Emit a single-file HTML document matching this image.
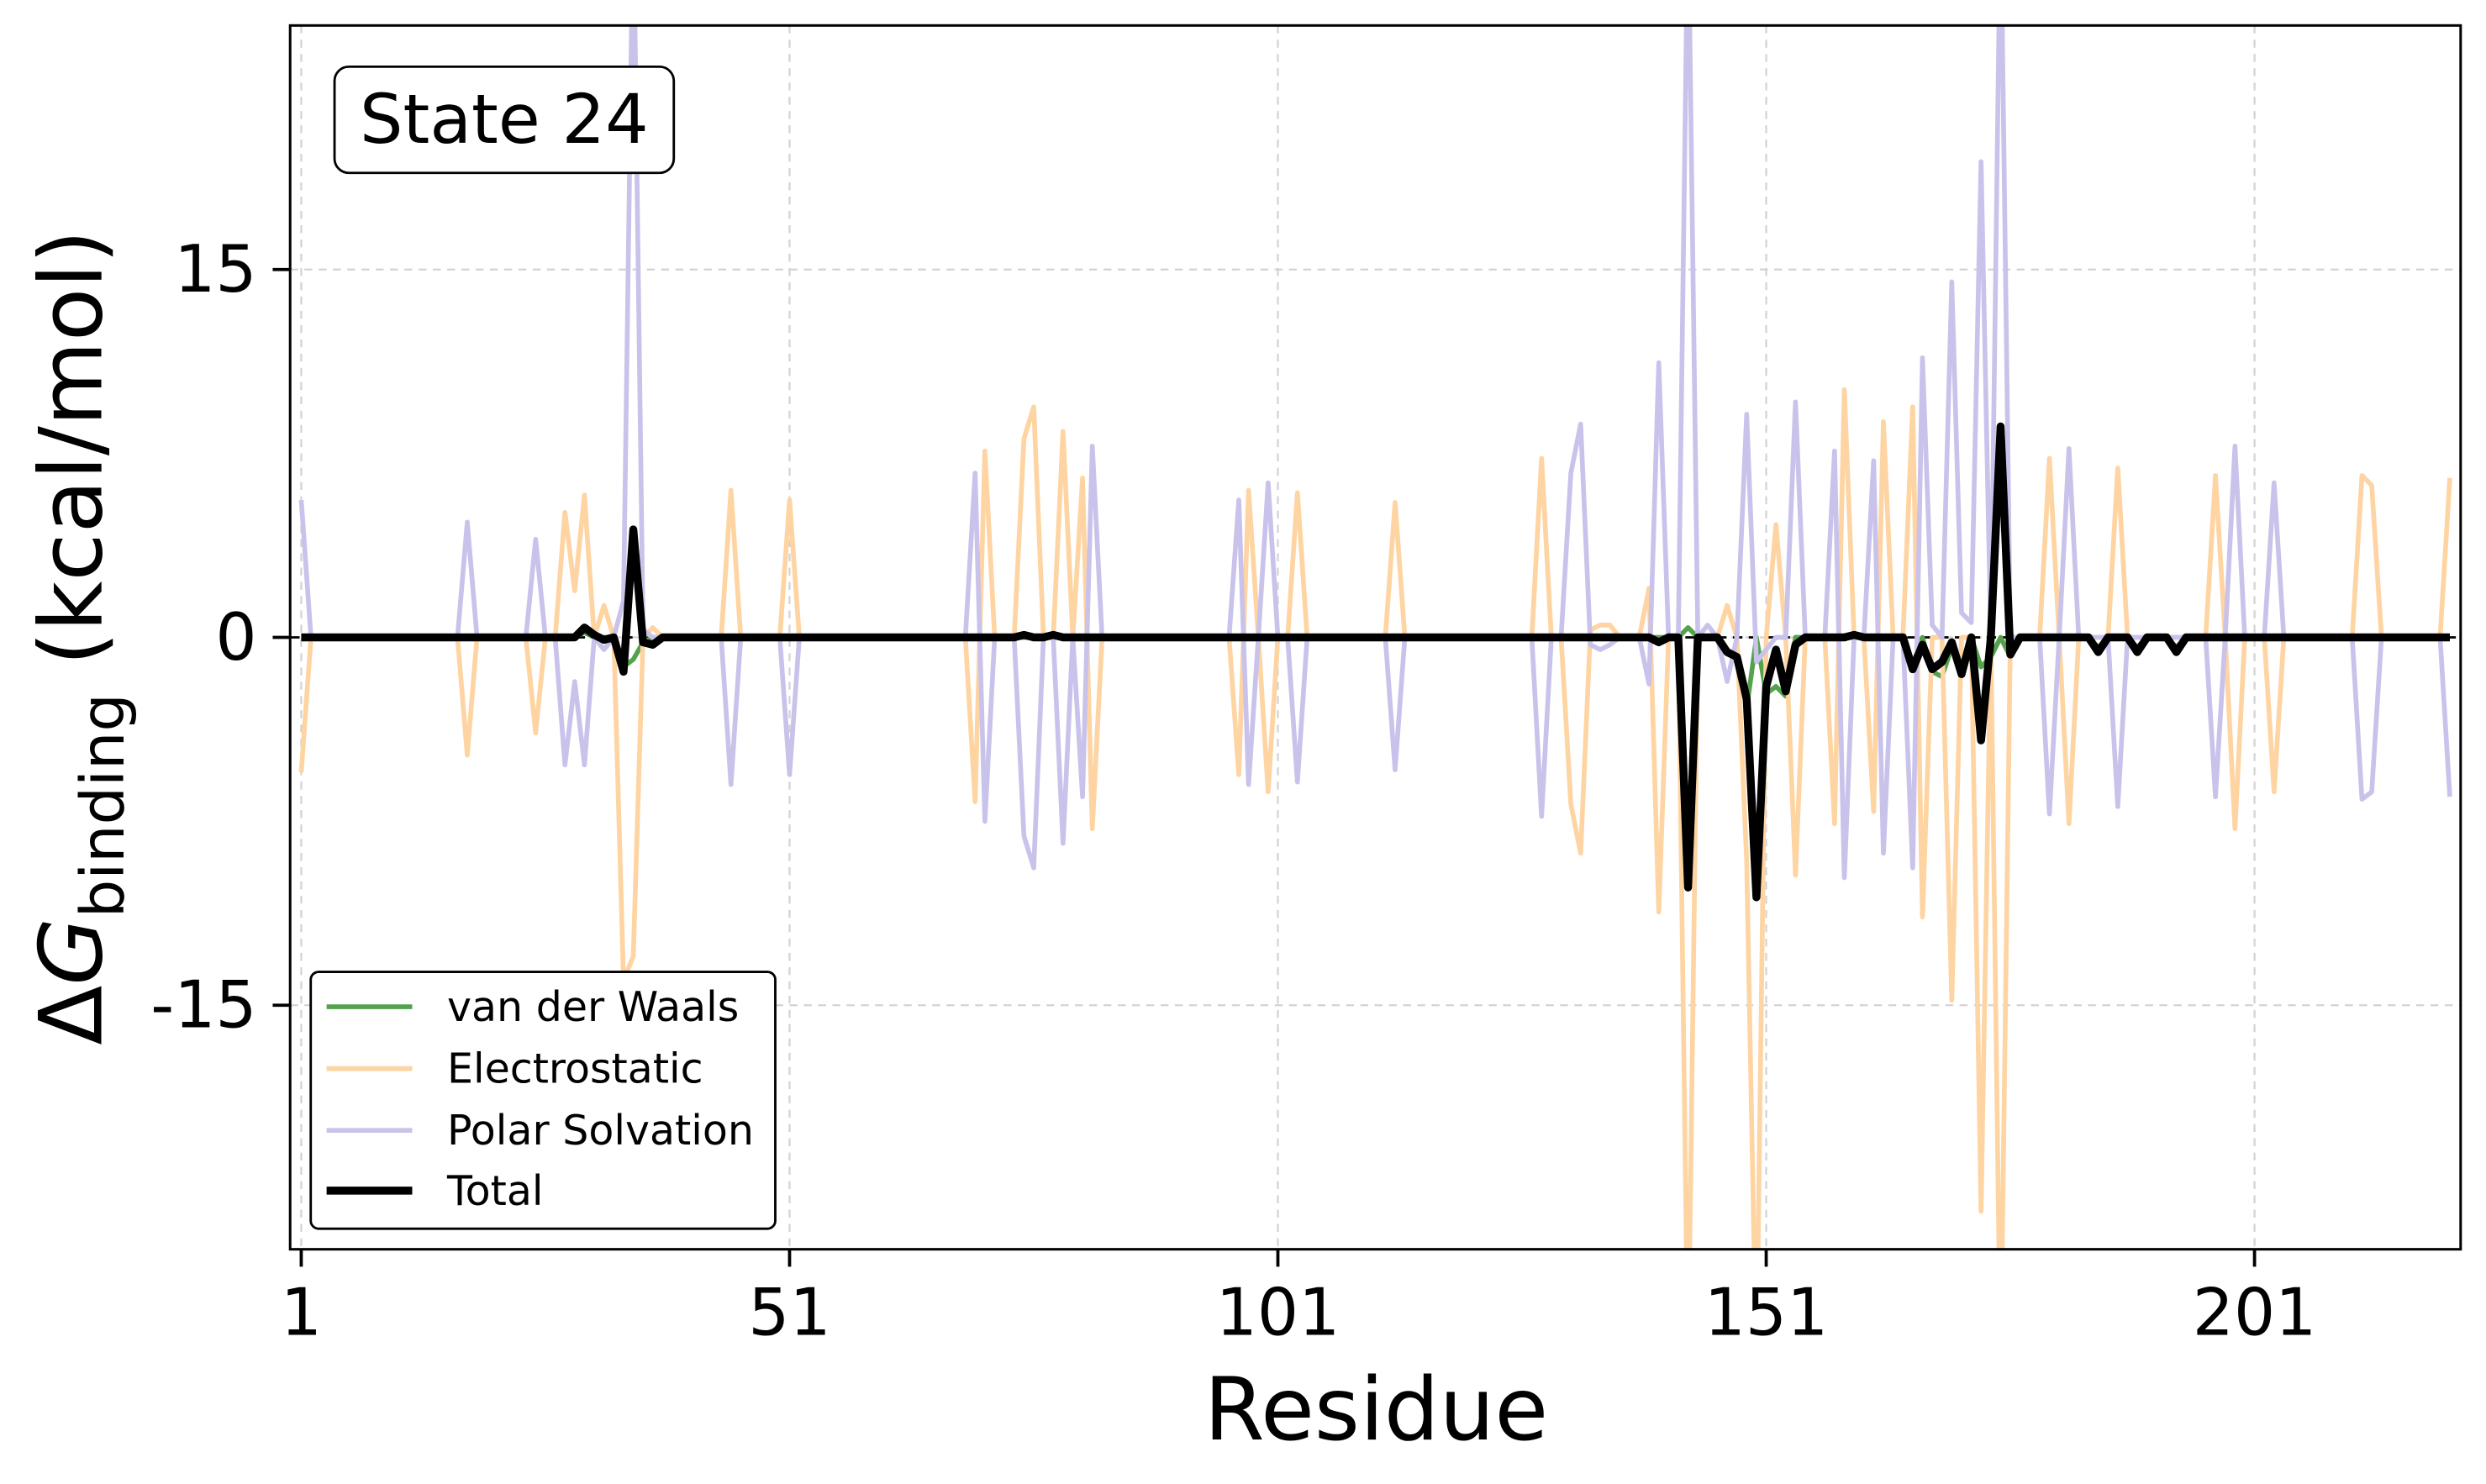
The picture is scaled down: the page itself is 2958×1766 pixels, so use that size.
<!DOCTYPE html>
<html><head><meta charset="utf-8"><style>html,body{margin:0;padding:0;background:#fff}svg{display:block}</style></head>
<body>
<svg id="chart" width="2958" height="1766" viewBox="0 0 1568 936" xmlns="http://www.w3.org/2000/svg" font-family="'DejaVu Sans','Liberation Sans',sans-serif">
<defs><clipPath id="pc"><rect x="183" y="16" width="1369" height="772"/></clipPath></defs>
<rect width="1568" height="936" fill="#fff"/>
<g id="grid"></g>
<g id="series" clip-path="url(#pc)"></g>
<rect x="183" y="16" width="1369" height="772" fill="none" stroke="#000" stroke-width="1.6"/>
<g id="axes"></g>
<text x="868" y="908" font-size="55" text-anchor="middle">Residue</text>
<text transform="translate(64,402) rotate(-90)" font-size="55" text-anchor="middle">Δ<tspan font-style="italic">G</tspan><tspan font-size="38" dy="14">binding</tspan><tspan dy="-14"> (kcal/mol)</tspan></text>
<g>
<rect x="211" y="42" width="214" height="67" rx="9" fill="#fff" stroke="#000" stroke-width="1.5"/>
<text x="318" y="90" font-size="43" text-anchor="middle">State 24</text></g>
<g>
<rect x="196" y="613" width="293" height="162" rx="5" fill="#fff" stroke="#000" stroke-width="1.5"/>
<line x1="206" y1="635" x2="260" y2="635" stroke="#55a24d" stroke-width="3"/><text x="282" y="644" font-size="26">van der Waals</text>
<line x1="206" y1="674" x2="260" y2="674" stroke="#fed4a2" stroke-width="3"/><text x="282" y="683" font-size="26">Electrostatic</text>
<line x1="206" y1="713" x2="260" y2="713" stroke="#c9c2ea" stroke-width="3"/><text x="282" y="722" font-size="26">Polar Solvation</text>
<line x1="206" y1="751" x2="260" y2="751" stroke="#000" stroke-width="5"/><text x="282" y="760" font-size="26">Total</text>
</g>
</svg>
<script>
const nRes = 221;
const xTicks = [1, 51, 101, 151, 201];
const yTicks = [-15, 0, 15];
const yTickLabels = ["-15", "0", "15"];
// sparse [residue, value]; unlisted residues are 0
const vdwPts = [[30,0.2],[34,-1.2],[35,-0.9],[36,-0.2],[143,0.4],[147,-0.5],[148,-0.8],[149,-2.9],[151,-2.3],[152,-2.0],[153,-2.4],[166,-1.1],[168,-1.4],[169,-1.6],[170,-0.4],[171,-1.5],[173,-1.2],[174,-0.8],[176,-0.8],[185,-0.4],[189,-0.4],[193,-0.4]];
const elecPts = [[1,-5.5],[18,-4.8],[25,-3.9],[28,5.1],[29,1.9],[30,5.8],[32,1.3],[34,-14],[35,-13],[37,0.4],[45,6.0],[51,5.6],[70,-6.7],[71,7.6],[75,8.1],[76,9.4],[79,8.4],[81,6.5],[82,-7.8],[97,-5.6],[98,6.0],[100,-6.3],[103,5.9],[113,5.5],[128,7.3],[131,-6.8],[132,-8.8],[133,0.3],[134,0.5],[135,0.5],[139,2.0],[140,-11.2],[143,-30],[147,1.3],[149,-9.1],[150,-30],[152,4.6],[154,-9.7],[158,-7.6],[159,10.1],[162,-7.1],[163,8.8],[166,9.4],[167,-11.4],[170,-14.8],[173,-23.4],[175,-30],[180,7.3],[182,-7.6],[187,6.9],[197,6.6],[199,-7.8],[203,-6.3],[212,6.6],[213,6.2],[221,6.5]];
const polarPts = [[1,5.6],[18,4.7],[25,4.0],[28,-5.2],[29,-1.8],[30,-5.2],[32,-0.5],[34,1.5],[35,30],[36,0.3],[45,-6.0],[51,-5.6],[70,6.7],[71,-7.5],[75,-8.1],[76,-9.4],[79,-8.4],[81,-6.5],[82,7.8],[97,5.6],[98,-6.0],[100,6.3],[103,-5.9],[113,-5.4],[128,-7.3],[131,6.7],[132,8.7],[133,-0.3],[134,-0.5],[135,-0.3],[139,-1.9],[140,11.2],[143,30],[145,0.5],[147,-1.8],[149,9.1],[150,-1.0],[151,-0.5],[154,9.6],[158,7.6],[159,-9.8],[162,7.2],[163,-8.8],[166,-9.4],[167,11.4],[168,0.5],[170,14.5],[171,1.0],[172,0.6],[173,19.4],[175,30],[180,-7.2],[182,7.7],[187,-6.9],[197,-6.5],[199,7.8],[203,6.3],[212,-6.6],[213,-6.3],[221,-6.5]];
const totalPts = [[30,0.4],[31,0.1],[32,-0.1],[34,-1.4],[35,4.4],[36,-0.2],[37,-0.3],[75,0.1],[78,0.1],[140,-0.2],[143,-10.2],[147,-0.6],[148,-0.8],[149,-2.5],[150,-10.6],[151,-2.0],[152,-0.5],[153,-2.2],[154,-0.3],[160,0.1],[166,-1.3],[167,-0.3],[168,-1.3],[169,-1.0],[170,-0.2],[171,-1.5],[173,-4.2],[175,8.6],[176,-0.7],[185,-0.6],[189,-0.6],[193,-0.6]];

const NS = "http://www.w3.org/2000/svg";
const X = r => 190 + (r - 1) * 6.16;
const Y = v => 402 - v * 15.47;
function full(pts){const a=new Array(nRes).fill(0);pts.forEach(p=>{a[p[0]-1]=p[1];});return a;}
function mk(tag, attrs, parent){const e=document.createElementNS(NS,tag);for(const k in attrs)e.setAttribute(k,attrs[k]);parent.appendChild(e);return e;}
const grid=document.getElementById('grid'), axes=document.getElementById('axes'), ser=document.getElementById('series');
xTicks.forEach(t=>{
  const g=mk('line',{x1:X(t),x2:X(t),y1:16,y2:788,stroke:'#d3d3d3','stroke-width':1.2,'stroke-dasharray':'5,4'},grid);
  
  
  const tk=mk('line',{x1:X(t),x2:X(t),y1:788,y2:799,stroke:'#000','stroke-width':2},axes);
  
  
  const tl=mk('text',{x:X(t),y:842,'font-size':41,'text-anchor':'middle'},axes);
  tl.textContent=t;
  
  
});
yTicks.forEach((t,i)=>{
  const g=mk('line',{x1:183,x2:1552,y1:Y(t),y2:Y(t),stroke:'#d3d3d3','stroke-width':1.2,'stroke-dasharray':'5,4'},grid);
  
  
  const tk=mk('line',{x1:172,x2:183,y1:Y(t),y2:Y(t),stroke:'#000','stroke-width':2},axes);
  
  
  const tl=mk('text',{x:162,y:Y(t)+14,'font-size':41,'text-anchor':'end'},axes);
  tl.textContent=yTickLabels[i];
  
  
});
const zl=mk('line',{x1:183,x2:1552,y1:Y(0),y2:Y(0),stroke:'#000','stroke-width':1.5,'stroke-dasharray':'6,4'},ser);


function line(pts,color,w,name){
  const a=full(pts);
  const d=a.map((v,i)=>(i?'L':'M')+X(i+1).toFixed(2)+','+Y(v).toFixed(2)).join('');
  const p=mk('path',{d:d,fill:'none',stroke:color,'stroke-width':w,'stroke-linejoin':'round'},ser);
  
  
}
line(vdwPts,'#55a24d',3,'vdw-line');
line(elecPts,'#fed4a2',3,'electrostatic-line');
line(polarPts,'#c9c2ea',3,'polar-solvation-line');
line(totalPts,'#000',5,'total-line');
</script>
</body></html>
